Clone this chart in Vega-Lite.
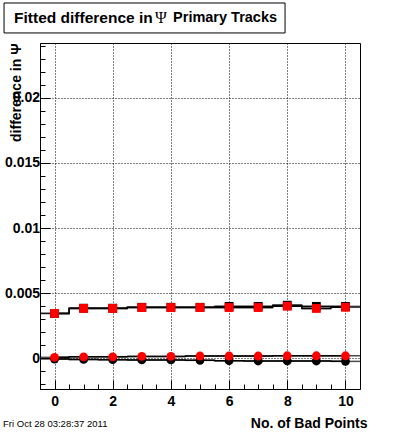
{
  "$schema": "https://vega.github.io/schema/vega-lite/v6.json",
  "width": 320,
  "height": 346,
  "autosize": "none",
  "padding": {"left": 40, "top": 43, "right": 40, "bottom": 44},
  "background": "white",
  "config": {
    "view": {"stroke": "black", "strokeWidth": 1},
    "font": "Liberation Sans",
    "axis": {
      "domainColor": "black",
      "tickColor": "black",
      "gridColor": "black",
      "gridDash": [1, 2],
      "labelFont": "Liberation Sans",
      "labelFontWeight": "bold",
      "labelFontSize": 14,
      "labelColor": "black",
      "titleFont": "Liberation Sans",
      "titleFontWeight": "bold",
      "titleFontSize": 14,
      "titleColor": "black"
    }
  },
  "resolve": {"axis": {"x": "independent", "y": "independent"}},
  "datasets": {
    "pts": [
      {"bin": 0, "series": "BS", "v": 0.00345},
      {"bin": 1, "series": "BS", "v": 0.00385},
      {"bin": 2, "series": "BS", "v": 0.00385},
      {"bin": 3, "series": "BS", "v": 0.00392},
      {"bin": 4, "series": "BS", "v": 0.00392},
      {"bin": 5, "series": "BS", "v": 0.00392},
      {"bin": 6, "series": "BS", "v": 0.00399},
      {"bin": 7, "series": "BS", "v": 0.00399},
      {"bin": 8, "series": "BS", "v": 0.00408},
      {"bin": 9, "series": "BS", "v": 0.00399},
      {"bin": 10, "series": "BS", "v": 0.00399},
      {"bin": 0, "series": "BC", "v": -0.00005},
      {"bin": 1, "series": "BC", "v": -0.00008},
      {"bin": 2, "series": "BC", "v": -0.0001},
      {"bin": 3, "series": "BC", "v": -0.00012},
      {"bin": 4, "series": "BC", "v": -0.00012},
      {"bin": 5, "series": "BC", "v": -0.00015},
      {"bin": 6, "series": "BC", "v": -0.00018},
      {"bin": 7, "series": "BC", "v": -0.0002},
      {"bin": 8, "series": "BC", "v": -0.0002},
      {"bin": 9, "series": "BC", "v": -0.0002},
      {"bin": 10, "series": "BC", "v": -0.00023},
      {"bin": 0, "series": "RS", "v": 0.00345},
      {"bin": 1, "series": "RS", "v": 0.00383},
      {"bin": 2, "series": "RS", "v": 0.00383},
      {"bin": 3, "series": "RS", "v": 0.0039},
      {"bin": 4, "series": "RS", "v": 0.0039},
      {"bin": 5, "series": "RS", "v": 0.0039},
      {"bin": 6, "series": "RS", "v": 0.0039},
      {"bin": 7, "series": "RS", "v": 0.0039},
      {"bin": 8, "series": "RS", "v": 0.004},
      {"bin": 9, "series": "RS", "v": 0.00383},
      {"bin": 10, "series": "RS", "v": 0.00392},
      {"bin": 0, "series": "RC", "v": 0.00008},
      {"bin": 1, "series": "RC", "v": 0.00012},
      {"bin": 2, "series": "RC", "v": 0.00012},
      {"bin": 3, "series": "RC", "v": 0.00015},
      {"bin": 4, "series": "RC", "v": 0.00015},
      {"bin": 5, "series": "RC", "v": 0.00018},
      {"bin": 6, "series": "RC", "v": 0.00018},
      {"bin": 7, "series": "RC", "v": 0.00018},
      {"bin": 8, "series": "RC", "v": 0.0002},
      {"bin": 9, "series": "RC", "v": 0.0002},
      {"bin": 10, "series": "RC", "v": 0.0002}
    ],
    "titles": [
      {"part": "Fitted difference in", "px": -1.392, "py": 0.02612, "kind": "sans1"},
      {"part": "Ψ", "px": 3.455, "py": 0.02612, "kind": "serif"},
      {"part": "Primary Tracks", "px": 4.074, "py": 0.02612, "kind": "sans2"}
    ]
  },
  "layer": [
    {
      "data": {"name": "pts"},
      "mark": {"type": "line", "interpolate": "step", "color": "black", "strokeWidth": 1.5},
      "encoding": {
        "x": {
          "field": "bin", "type": "quantitative",
          "scale": {"domain": [-0.5, 10.5], "nice": false, "zero": false},
          "axis": {
            "orient": "bottom",
            "title": "No. of Bad Points",
            "titleAnchor": "end", "titleAlign": "right", "titleBaseline": "alphabetic",
            "titleX": 327, "titleY": 38,
            "values": [0, 2, 4, 6, 8, 10],
            "format": "d",
            "tickSize": -9,
            "grid": true,
            "labelPadding": 14.5,
            "labelBaseline": "top"
          }
        },
        "y": {
          "field": "v", "type": "quantitative",
          "scale": {"domain": [-0.00235, 0.0242], "nice": false, "zero": false},
          "axis": {
            "orient": "left",
            "title": "difference in Ψ",
            "titleAngle": 270, "titleAnchor": "end", "titleAlign": "right", "titleBaseline": "alphabetic",
            "titleX": -20, "titleY": 0,
            "values": [0, 0.005, 0.01, 0.015, 0.02],
            "format": "~g",
            "tickSize": -10,
            "grid": true,
            "labelAlign": "right",
            "labelPadding": 10.5
          }
        },
        "detail": {"field": "series"}
      }
    },
    {
      "data": {"name": "pts"},
      "mark": {"type": "tick", "orient": "horizontal", "color": "black", "size": 29, "thickness": 1.5},
      "encoding": {
        "x": {
          "field": "bin", "type": "quantitative",
          "axis": {
            "orient": "bottom", "title": null, "labels": false, "grid": false, "domain": false,
            "values": [0, 0.5, 1, 1.5, 2, 2.5, 3, 3.5, 4, 4.5, 5, 5.5, 6, 6.5, 7, 7.5, 8, 8.5, 9, 9.5, 10],
            "tickSize": -5
          }
        },
        "y": {
          "field": "v", "type": "quantitative",
          "axis": {
            "orient": "left", "title": null, "labels": false, "grid": false, "domain": false,
            "values": [-0.002, -0.001, 0, 0.001, 0.002, 0.003, 0.004, 0.005, 0.006, 0.007, 0.008, 0.009, 0.01, 0.011, 0.012, 0.013, 0.014, 0.015, 0.016, 0.017, 0.018, 0.019, 0.02, 0.021, 0.022, 0.023, 0.024],
            "tickSize": -5
          }
        }
      }
    },
    {
      "data": {"name": "pts"},
      "mark": {"type": "point", "filled": true, "opacity": 1, "size": 78, "strokeWidth": 0},
      "encoding": {
        "x": {"field": "bin", "type": "quantitative", "axis": null},
        "y": {"field": "v", "type": "quantitative", "axis": null},
        "fill": {"field": "series", "type": "nominal", "scale": {"domain": ["BS", "BC", "RS", "RC"], "range": ["black", "black", "#ff0000", "#ff0000"]}, "legend": null},
        "shape": {"field": "series", "type": "nominal", "scale": {"domain": ["BS", "BC", "RS", "RC"], "range": ["square", "circle", "square", "circle"]}, "legend": null}
      }
    },
    {
      "data": {"values": [{"label": "box"}]},
      "mark": {"type": "rect", "fill": "white", "stroke": "black", "strokeWidth": 1, "clip": false},
      "encoding": {
        "x": {"datum": -1.736, "type": "quantitative", "axis": null},
        "x2": {"datum": 7.924},
        "y": {"datum": 0.02727, "type": "quantitative", "axis": null},
        "y2": {"datum": 0.02497}
      }
    },
    {
      "data": {"name": "titles"},
      "transform": [{"filter": "datum.kind === 'sans1'"}],
      "mark": {"type": "text", "align": "left", "baseline": "middle", "font": "Liberation Sans", "fontWeight": "bold", "fontSize": 15.5, "color": "black", "clip": false},
      "encoding": {
        "x": {"field": "px", "type": "quantitative", "axis": null},
        "y": {"field": "py", "type": "quantitative", "axis": null},
        "text": {"field": "part"}
      }
    },
    {
      "data": {"name": "titles"},
      "transform": [{"filter": "datum.kind === 'sans2'"}],
      "mark": {"type": "text", "align": "left", "baseline": "middle", "font": "Liberation Sans", "fontWeight": "bold", "fontSize": 14.5, "color": "black", "clip": false},
      "encoding": {
        "x": {"field": "px", "type": "quantitative", "axis": null},
        "y": {"field": "py", "type": "quantitative", "axis": null},
        "text": {"field": "part"}
      }
    },
    {
      "data": {"name": "titles"},
      "transform": [{"filter": "datum.kind === 'serif'"}],
      "mark": {"type": "text", "align": "left", "baseline": "middle", "font": "Liberation Serif", "fontSize": 16, "color": "black", "clip": false},
      "encoding": {
        "x": {"field": "px", "type": "quantitative", "axis": null},
        "y": {"field": "py", "type": "quantitative", "axis": null},
        "text": {"field": "part"}
      }
    },
    {
      "data": {"values": [{"label": "Fri Oct 28 03:28:37 2011"}]},
      "mark": {"type": "text", "align": "left", "baseline": "middle", "font": "Liberation Sans", "fontSize": 9.5, "color": "black", "clip": false},
      "encoding": {
        "x": {"datum": -1.77, "type": "quantitative", "axis": null},
        "y": {"datum": -0.005034, "type": "quantitative", "axis": null},
        "text": {"field": "label"}
      }
    }
  ]
}
